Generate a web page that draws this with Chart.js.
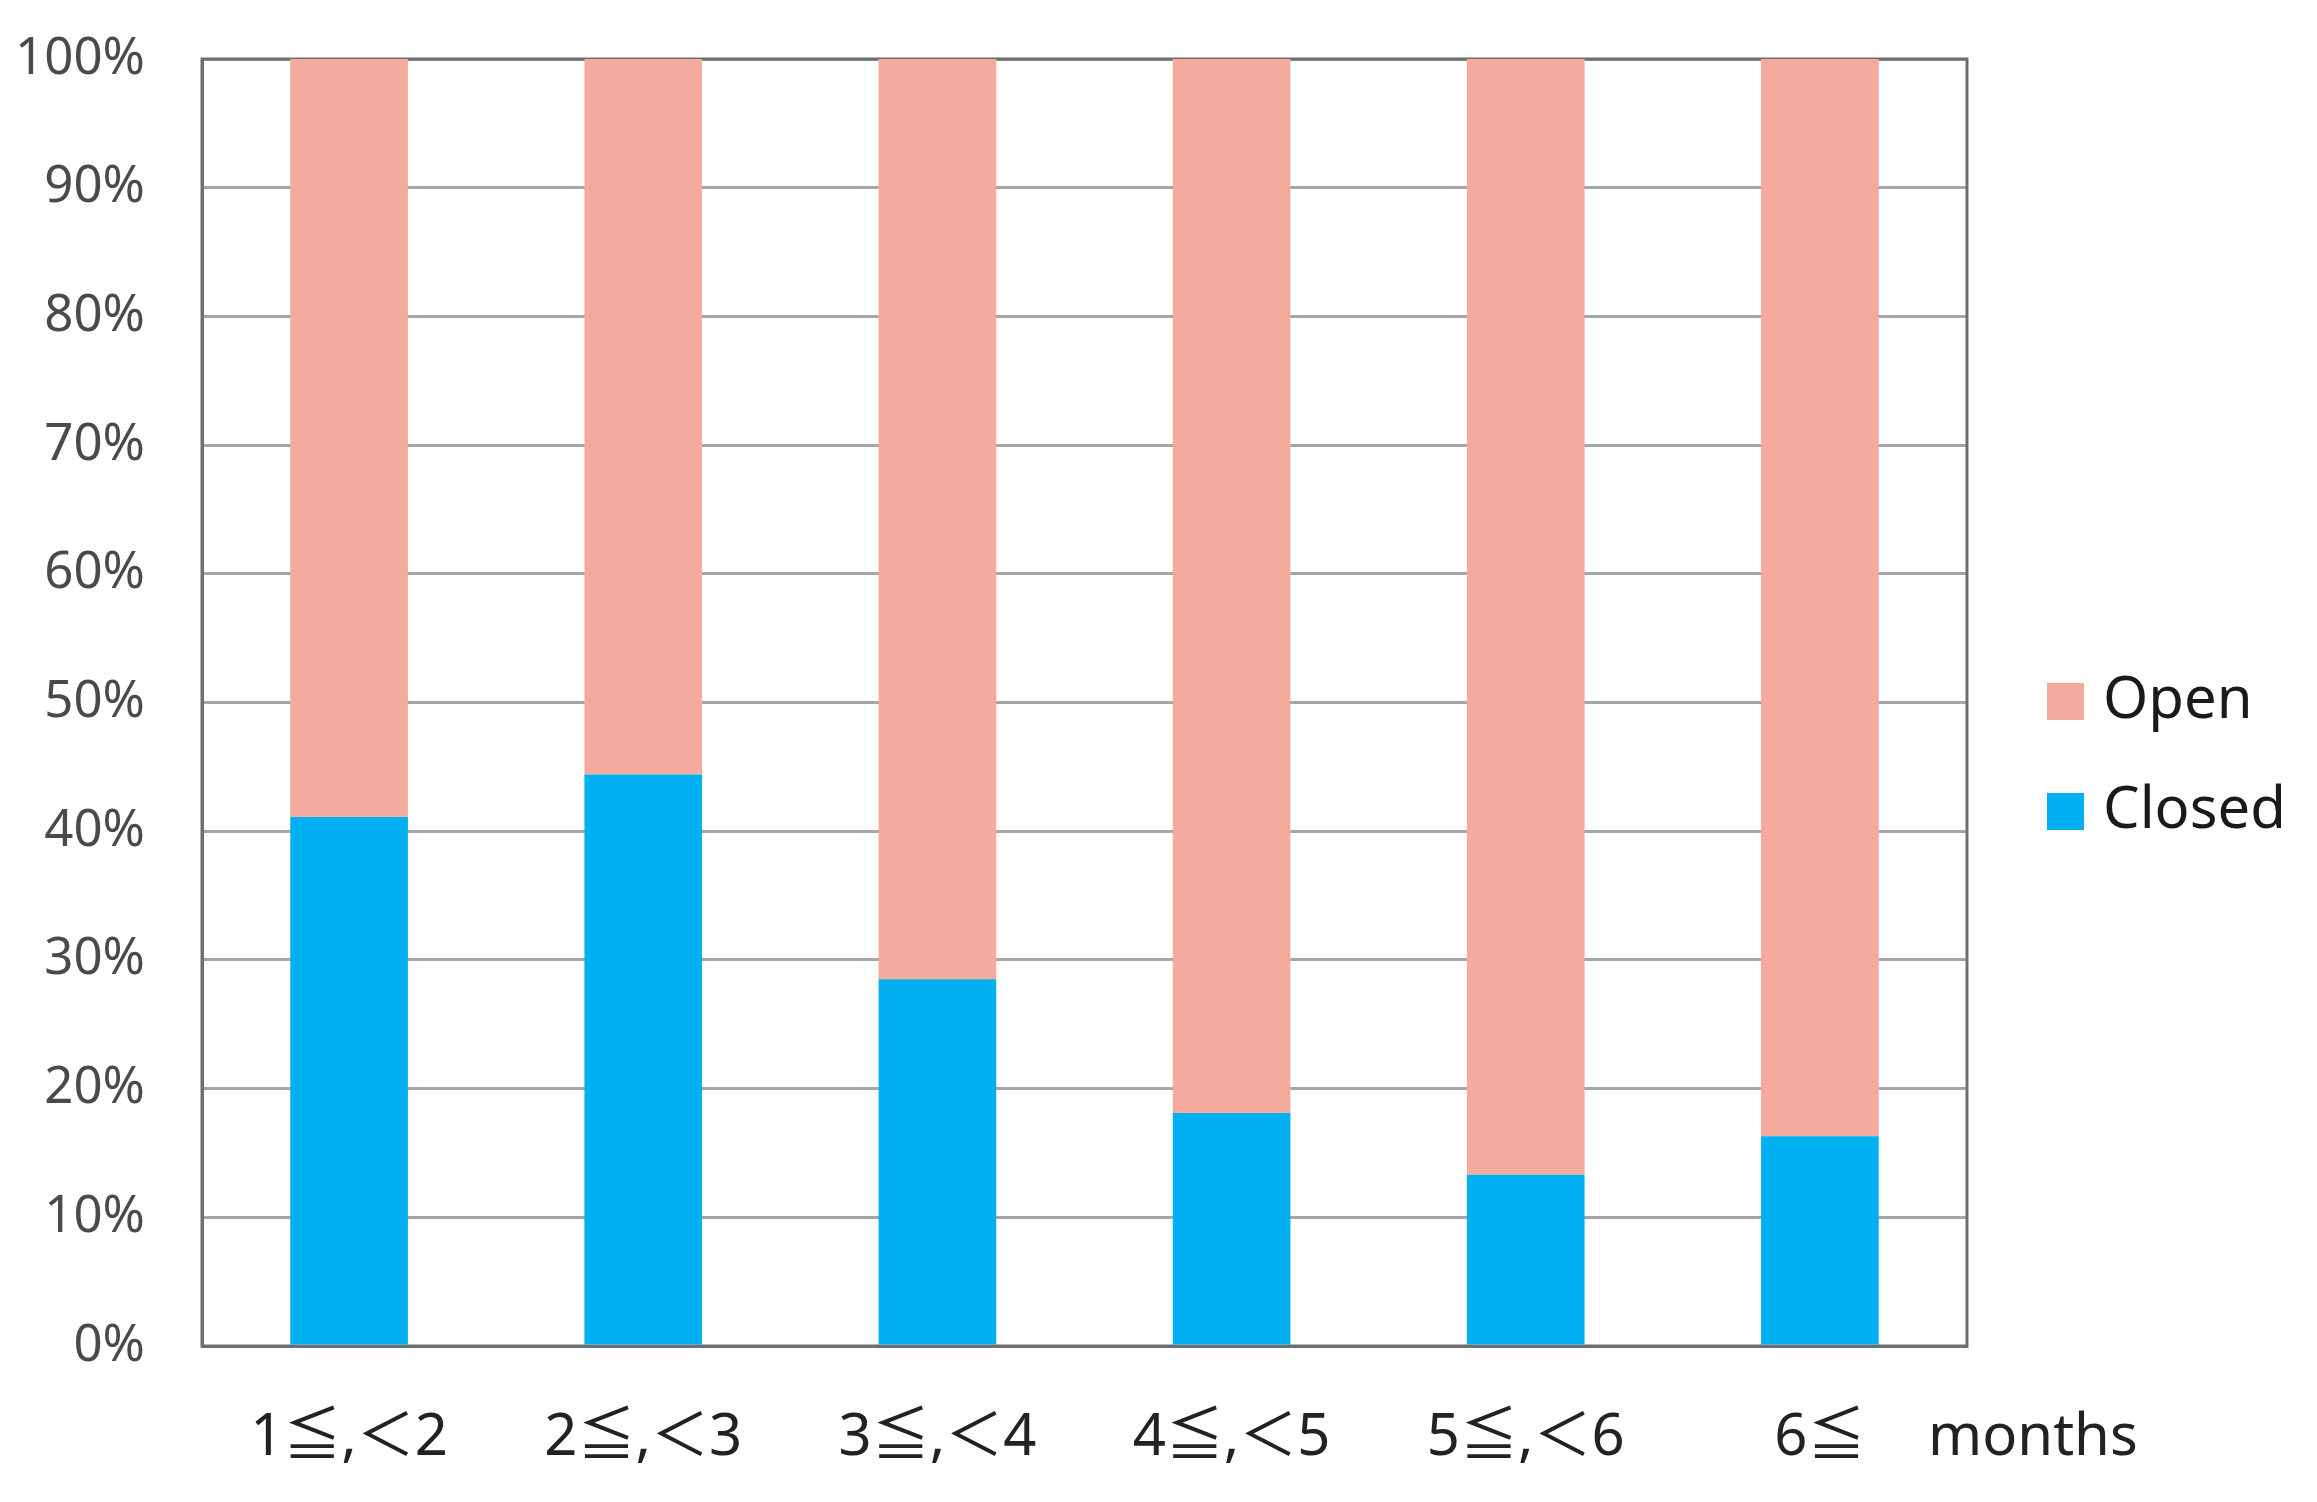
<!DOCTYPE html>
<html>
<head>
<meta charset="utf-8">
<script src="https://cdn.jsdelivr.net/npm/chart.js@4.4.1/dist/chart.umd.min.js"></script>
<style>
  html, body { margin: 0; padding: 0; background: #fff; }
  #wrap { width: 2317px; height: 1502px; }
</style>
</head>
<body>
<div id="wrap"><canvas id="chart" width="2317" height="1502"></canvas></div>
<script>
// data (percent)
const categories = ['1≦,＜2', '2≦,＜3', '3≦,＜4', '4≦,＜5', '5≦,＜6', '6≦'];
const closedValues = [41.1, 44.4, 28.5, 18.1, 13.3, 16.3];
const openValues = [58.9, 55.6, 71.5, 81.9, 86.7, 83.7];
const yTicks = [0, 10, 20, 30, 40, 50, 60, 70, 80, 90, 100];
const unitLabel = 'months';

const FONT = "'Noto Sans', 'Noto Sans CJK JP', sans-serif";

// frame round the plot area (top and right sides)
const framePlugin = {
    id: 'frame',
    beforeDatasetsDraw(chart) {
        const a = chart.chartArea;
        const ctx = chart.ctx;
        ctx.save();
        ctx.strokeStyle = '#6e6e6e';
        ctx.lineWidth = 3;
        ctx.strokeRect(a.left, a.top, a.right - a.left, a.bottom - a.top);
        ctx.restore();
    }
};

// "months" text and the legend on the right
const extrasPlugin = {
    id: 'extras',
    afterDraw(chart) {
        const a = chart.chartArea;
        const ctx = chart.ctx;
        ctx.save();
        ctx.fillStyle = '#222';
        ctx.font = '58px ' + FONT;
        ctx.textAlign = 'left';
        ctx.textBaseline = 'middle';
        ctx.fillText(unitLabel, a.right - 39, a.bottom + 92);

        // legend: Open above Closed
        const items = chart.data.datasets.slice().reverse();
        items.forEach((ds, i) => {
            const cy = a.top + 642 + i * 110;
            ctx.fillStyle = ds.backgroundColor;
            ctx.fillRect(a.right + 80, cy - 18, 37, 37);
            ctx.fillStyle = '#1a1a1a';
            ctx.font = '58px ' + FONT;
            ctx.fillText(ds.label, a.right + 136, cy);
        });
        ctx.restore();
    }
};

const ctx = document.getElementById('chart').getContext('2d');
const chart = new Chart(ctx, {
    type: 'bar',
    data: {
        labels: categories,
        datasets: [
            {
                label: 'Closed',
                data: closedValues,
                backgroundColor: '#00B0F0',
                barPercentage: 0.4,
                categoryPercentage: 1.0
            },
            {
                label: 'Open',
                data: openValues,
                backgroundColor: '#F4AB9E',
                barPercentage: 0.4,
                categoryPercentage: 1.0
            }
        ]
    },
    options: {
        responsive: false,
        animation: false,
        layout: { padding: { top: 59, right: 350, bottom: 0, left: 0 } },
        plugins: {
            legend: { display: false },
            tooltip: { enabled: false }
        },
        scales: {
            x: {
                stacked: true,
                grid: { display: false, drawTicks: false },
                border: { display: true, color: '#6e6e6e', width: 3 },
                ticks: {
                    color: '#222',
                    font: { family: FONT, size: 58 },
                    padding: 58,
                    maxRotation: 0
                },
                afterFit(scale) {
                    scale.height = 156;
                    scale.paddingLeft = 0;
                    scale.paddingRight = 0;
                }
            },
            y: {
                stacked: true,
                min: 0,
                max: 100,
                afterBuildTicks(scale) {
                    scale.ticks = yTicks.map(v => ({ value: v }));
                },
                grid: { color: '#a6a6a6', lineWidth: 3, drawTicks: false },
                border: { display: true, color: '#6e6e6e', width: 3 },
                ticks: {
                    color: '#4a4a4a',
                    font: { family: FONT, size: 51 },
                    padding: 57,
                    callback: v => v + '%'
                },
                afterFit(scale) {
                    scale.width = 202;
                    scale.paddingTop = 0;
                    scale.paddingBottom = 0;
                }
            }
        }
    },
    plugins: [framePlugin, extrasPlugin]
});
</script>
</body>
</html>
